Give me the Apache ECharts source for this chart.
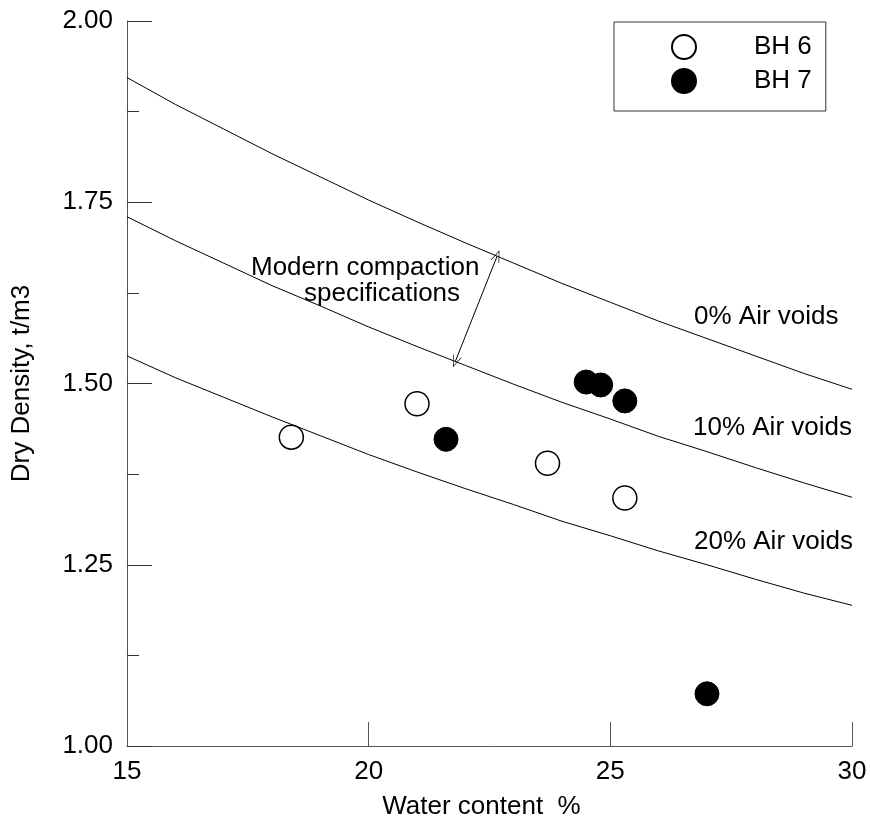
<!DOCTYPE html>
<html>
<head>
<meta charset="utf-8">
<script src="https://cdn.jsdelivr.net/npm/echarts@6/dist/echarts.min.js"></script>
<style>
  html, body { margin: 0; padding: 0; background: #fff; }
  #main { width: 870px; height: 830px; }
</style>
</head>
<body>
<div id="main"></div>
<script>
// water content, %
var wc = [15, 16, 17, 18, 19, 20, 21, 22, 23, 24, 25, 26, 27, 28, 29, 30];
// dry density curves, t/m3
var voids0  = [1.922, 1.885, 1.851, 1.817, 1.785, 1.753, 1.723, 1.694, 1.666, 1.638, 1.612, 1.586, 1.562, 1.538, 1.514, 1.492];
var voids10 = [1.730, 1.697, 1.666, 1.635, 1.607, 1.578, 1.551, 1.525, 1.499, 1.474, 1.451, 1.427, 1.406, 1.384, 1.363, 1.343];
var voids20 = [1.538, 1.508, 1.481, 1.454, 1.428, 1.402, 1.378, 1.355, 1.333, 1.310, 1.290, 1.269, 1.250, 1.230, 1.211, 1.194];

var bh6 = [[18.4, 1.426], [21.0, 1.472], [23.7, 1.390], [25.3, 1.342]];
var bh7 = [[21.6, 1.423], [24.5, 1.502], [24.8, 1.498], [25.3, 1.476], [27.0, 1.072]];

var yTicks = [1.00, 1.25, 1.50, 1.75, 2.00];

var font = 'Liberation Sans';
var fs = 26;
var chevron = 'path://M0,0 L5,10 L4.2,10 L0,1.6 L-4.2,10 L-5,10 Z';

function curve(arr) {
  var out = [];
  for (var i = 0; i < wc.length; i++) out.push([wc[i], arr[i]]);
  return out;
}

var myChart = echarts.init(document.getElementById('main'));
var option = {
  animation: false,
  backgroundColor: '#fff',
  textStyle: { fontFamily: font },
  grid: { left: 127, right: 18, top: 21, bottom: 84 },
  legend: {
    data: ['BH 6', 'BH 7'],
    orient: 'vertical',
    left: 614,
    top: 22,
    padding: [12, 14, 17, 57],
    itemWidth: 24,
    itemHeight: 24,
    itemGap: 8,
    borderColor: '#333',
    borderWidth: 1,
    textStyle: { fontSize: fs, color: '#000', fontFamily: font, padding: [0, 0, 0, 53] }
  },
  xAxis: {
    type: 'value',
    min: 15, max: 30, interval: 5,
    name: 'Water content  %',
    nameLocation: 'middle',
    nameGap: 48,
    nameTextStyle: { fontSize: fs, color: '#000', fontFamily: font, padding: [0, 16, 0, 0] },
    axisLine: { lineStyle: { color: '#555', width: 1 } },
    axisTick: { inside: true, length: 24, lineStyle: { color: '#555' } },
    axisLabel: { fontSize: fs, color: '#000', margin: 13, fontFamily: font },
    splitLine: { show: false }
  },
  yAxis: {
    type: 'value',
    min: 1, max: 2, interval: 0.25,
    name: 'Dry Density, t/m3',
    nameLocation: 'middle',
    nameGap: 92,
    nameTextStyle: { fontSize: fs, color: '#000', fontFamily: font },
    axisLine: { lineStyle: { color: '#555', width: 1 } },
    axisTick: { inside: true, length: 25, lineStyle: { color: '#333' } },
    minorTick: { show: true, splitNumber: 2, length: 12, lineStyle: { color: '#333' } },
    axisLabel: {
      fontSize: fs, color: '#000', margin: 14, fontFamily: font,
      formatter: function (v) { return yTicks.indexOf(v) >= 0 ? v.toFixed(2) : ''; }
    },
    splitLine: { show: false }
  },
  series: [
    {
      name: '0% Air voids', type: 'line', data: curve(voids0), symbol: 'none',
      lineStyle: { color: '#000', width: 1 }, silent: true,
      markLine: {
        silent: true,
        symbol: [chevron, chevron],
        symbolSize: [9, 12],
        label: { show: false },
        lineStyle: { color: '#000', width: 1, type: 'solid' },
        data: [[{ coord: [21.79, 1.530] }, { coord: [22.66, 1.676] }]]
      }
    },
    { name: '10% Air voids', type: 'line', data: curve(voids10), symbol: 'none', lineStyle: { color: '#000', width: 1 }, silent: true },
    { name: '20% Air voids', type: 'line', data: curve(voids20), symbol: 'none', lineStyle: { color: '#000', width: 1 }, silent: true },
    {
      name: 'BH 6', type: 'scatter', data: bh6, symbol: 'circle', symbolSize: 24,
      itemStyle: { color: '#fff', borderColor: '#000', borderWidth: 1.5, opacity: 1 }
    },
    {
      name: 'BH 7', type: 'scatter', data: bh7, symbol: 'circle', symbolSize: 24,
      itemStyle: { color: '#000', borderColor: '#000', borderWidth: 1, opacity: 1 }
    }
  ],
  graphic: [
    { type: 'text', x: 694, y: 317, style: { text: '0% Air voids', font: fs + 'px ' + font, fill: '#000', align: 'left', verticalAlign: 'middle' } },
    { type: 'text', x: 693, y: 428, style: { text: '10% Air voids', font: fs + 'px ' + font, fill: '#000', align: 'left', verticalAlign: 'middle' } },
    { type: 'text', x: 694, y: 542, style: { text: '20% Air voids', font: fs + 'px ' + font, fill: '#000', align: 'left', verticalAlign: 'middle' } },
    { type: 'text', x: 251, y: 268, style: { text: 'Modern compaction', font: fs + 'px ' + font, fill: '#000', align: 'left', verticalAlign: 'middle' } },
    { type: 'text', x: 304, y: 294, style: { text: 'specifications', font: fs + 'px ' + font, fill: '#000', align: 'left', verticalAlign: 'middle' } }
  ]
};
myChart.setOption(option);
</script>
</body>
</html>
